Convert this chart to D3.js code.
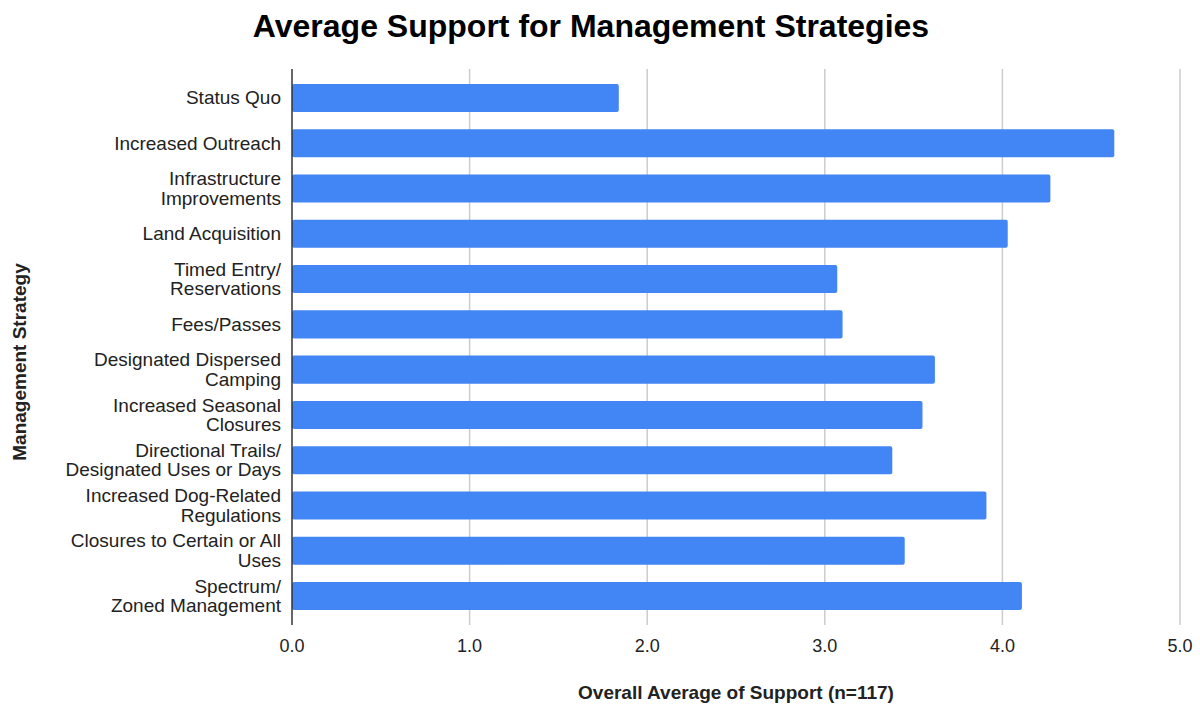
<!DOCTYPE html>
<html>
<head>
<meta charset="utf-8">
<script src="https://cdn.jsdelivr.net/npm/d3@7"></script>
<style>
  html, body { margin: 0; padding: 0; background: #fff; }
  svg { display: block; font-family: "Liberation Sans", Arial, sans-serif; }
</style>
</head>
<body>
<svg id="chart" width="1200" height="704"></svg>
<script>
const categories = [
  "Status Quo",
  "Increased Outreach",
  "Infrastructure\nImprovements",
  "Land Acquisition",
  "Timed Entry/\nReservations",
  "Fees/Passes",
  "Designated Dispersed\nCamping",
  "Increased Seasonal\nClosures",
  "Directional Trails/\nDesignated Uses or Days",
  "Increased Dog-Related\nRegulations",
  "Closures to Certain or All\nUses",
  "Spectrum/\nZoned Management"
];
const values = [1.84, 4.63, 4.27, 4.03, 3.07, 3.10, 3.62, 3.55, 3.38, 3.91, 3.45, 4.11];
const xTicks = [0, 1, 2, 3, 4, 5];
const title = "Average Support for Management Strategies";
const xTitle = "Overall Average of Support (n=117)";
const yTitle = "Management Strategy";

(function () {
const svg = d3.select("#chart");
const mLeft = 292, mRight = 1180, mTop = 69, mBottom = 625;

const x = d3.scaleLinear().domain([0, 5]).range([mLeft, mRight]);
const y = d3.scaleBand().domain(categories).range([mTop, mBottom])
  .paddingInner(0.381).paddingOuter(0.331);

// gridlines
svg.append("g").selectAll("line").data(xTicks.filter(d => d > 0)).join("line")
  .attr("x1", d => x(d)).attr("x2", d => x(d))
  .attr("y1", mTop).attr("y2", mBottom)
  .attr("stroke", "#cccccc").attr("stroke-width", 1.5);

// bars
svg.append("g").selectAll("rect").data(categories).join("rect")
  .attr("x", x(0))
  .attr("y", d => y(d))
  .attr("width", (d, i) => x(values[i]) - x(0))
  .attr("height", y.bandwidth())
  .attr("rx", 2).attr("ry", 2)
  .attr("fill", "#4285f4");

// zero axis line
svg.append("line")
  .attr("x1", x(0)).attr("x2", x(0)).attr("y1", mTop).attr("y2", mBottom)
  .attr("stroke", "#333").attr("stroke-width", 1.5);

// x tick labels
svg.append("g").selectAll("text").data(xTicks).join("text")
  .attr("x", d => x(d)).attr("y", 652)
  .attr("text-anchor", "middle")
  .attr("font-size", 18).attr("fill", "#222")
  .text(d => d3.format(".1f")(d));

// category labels
const lab = svg.append("g").selectAll("text").data(categories).join("text")
  .attr("text-anchor", "end")
  .attr("font-size", 19).attr("fill", "#222");
lab.each(function(d) {
  const lines = d.split("\n");
  const cy = y(d) + y.bandwidth() / 2;
  const lh = 19.5;
  const t = d3.select(this);
  lines.forEach((ln, i) => {
    t.append("tspan")
      .attr("x", 281)
      .attr("y", cy + (i - (lines.length - 1) / 2) * lh + 6.5)
      .text(ln);
  });
});

// title
svg.append("text").attr("x", 591).attr("y", 37)
  .attr("text-anchor", "middle").attr("font-size", 32).attr("font-weight", "bold")
  .attr("fill", "#000").text(title);

// x axis title
svg.append("text").attr("x", 736).attr("y", 699)
  .attr("text-anchor", "middle").attr("font-size", 19).attr("font-weight", "bold")
  .attr("fill", "#222").text(xTitle);

// y axis title
svg.append("text")
  .attr("transform", "translate(26,362) rotate(-90)")
  .attr("text-anchor", "middle").attr("font-size", 19).attr("font-weight", "bold")
  .attr("fill", "#222").text(yTitle);
})();
</script>
</body>
</html>
